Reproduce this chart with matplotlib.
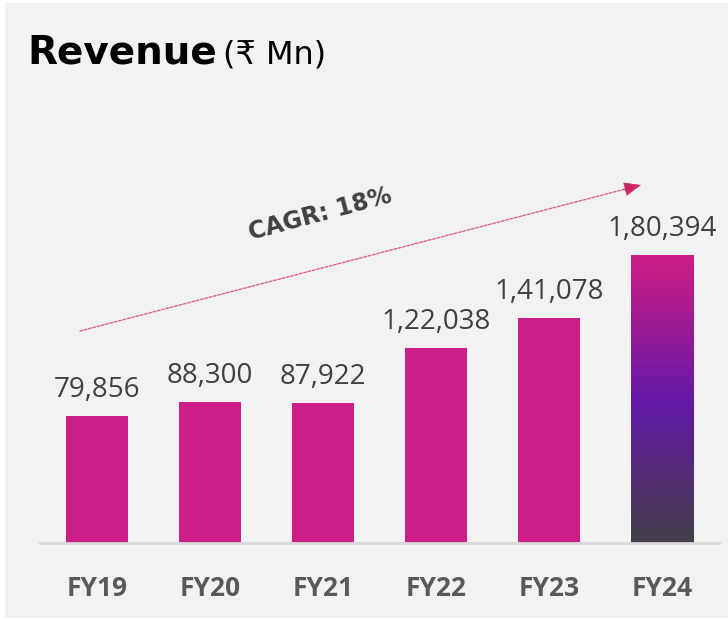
import numpy as np
import matplotlib.pyplot as plt
from matplotlib.patches import Rectangle
from matplotlib.colors import LinearSegmentedColormap

years = ["FY19", "FY20", "FY21", "FY22", "FY23", "FY24"]
revenue = [79856, 88300, 87922, 122038, 141078, 180394]
value_labels = ["79,856", "88,300", "87,922", "1,22,038", "1,41,078", "1,80,394"]
cagr_text = "CAGR: 18%"

BG = "#f2f2f2"
MAGENTA = "#cd1d87"
TEXT = "#404040"

W, H = 728, 620
fig = plt.figure(figsize=(W / 100, H / 100), dpi=100, facecolor="white")

# grey panel with a thin white margin
fig.patches.append(Rectangle((5 / W, 2 / H), 1 - 5 / W, 1 - 5 / H,
                             transform=fig.transFigure, facecolor=BG,
                             edgecolor="none", zorder=-5))


def fx(px):
    return px / W


def fy(py):
    return 1 - py / H


ax_left, ax_right, ax_top, ax_bottom = 40, 719, 100, 543
ax = fig.add_axes([fx(ax_left), fy(ax_bottom), (ax_right - ax_left) / W,
                   (ax_bottom - ax_top) / H])
ax.set_facecolor("none")
x = np.arange(len(years))

bar_w = 0.55
ax.bar(x[:-1], revenue[:-1], width=bar_w, color=MAGENTA, zorder=2)

# last bar filled with a vertical gradient
grad = LinearSegmentedColormap.from_list(
    "rev", [(0.0, "#45404a"), (0.49, "#6419a8"), (1.0, "#cf1d85")])
last = len(years) - 1
ax.imshow(np.linspace(0, 1, 256).reshape(-1, 1), cmap=grad, origin="lower",
          aspect="auto", extent=(x[last] - bar_w / 2, x[last] + bar_w / 2, 0, revenue[last]),
          zorder=2)
ax.set_xlim(-0.504, 5.504)
ax.set_ylim(0, 277500)

for xi, v, lab in zip(x, revenue, value_labels):
    ax.annotate(lab, (xi, v), xytext=(0, 19), textcoords="offset pixels",
                ha="center", va="baseline", fontsize=20, color=TEXT,
                family="Open Sans")

for s in ["top", "right", "left"]:
    ax.spines[s].set_visible(False)
ax.spines["bottom"].set_color("#d9d9d9")
ax.spines["bottom"].set_linewidth(2)
ax.set_yticks([])
ax.set_xticks(x)
ax.set_xticklabels(years, fontsize=19, fontweight="bold", color="#595959",
                   family="Open Sans")
ax.tick_params(axis="x", length=0, pad=23)

# title
fig.text(fx(27), fy(64), "Revenue", fontsize=28, fontweight="bold",
         family="DejaVu Sans", color="black", va="baseline")
fig.text(fx(223), fy(64), "(₹ Mn)", fontsize=23,
         family=["DejaVu Sans", "Noto Sans"], color="black", va="baseline")

# growth arrow
ax.annotate("", xy=(fx(627), fy(188.6)), xycoords="figure fraction",
            xytext=(fx(80), fy(331)), textcoords="figure fraction",
            arrowprops=dict(arrowstyle="-", color="#e2648f", lw=1,
                            linestyle=(0, (2, 1.2)), shrinkA=0, shrinkB=0))
ax.annotate("", xy=(fx(641), fy(185)), xycoords="figure fraction",
            xytext=(fx(623), fy(189.7)), textcoords="figure fraction",
            arrowprops=dict(arrowstyle="-|>,head_length=1.1,head_width=0.45",
                            color="#d02764", lw=0.5, shrinkA=0, shrinkB=0))
fig.text(fx(320), fy(214), cagr_text, fontsize=17, fontweight="bold",
         family="DejaVu Sans", color=TEXT, rotation=15, ha="center", va="center",
         rotation_mode="anchor")

fig.savefig("out.png", dpi=100, facecolor="white")
